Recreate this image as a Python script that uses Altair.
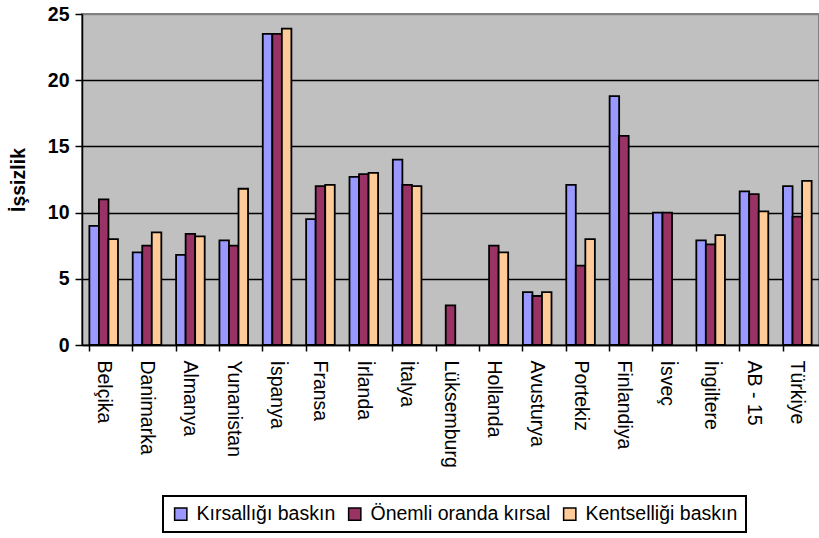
import altair as alt
import pandas as pd

# Unemployment rate (%) by country and region type
countries = ["Belçika", "Danimarka", "Almanya", "Yunanistan", "İspanya", "Fransa",
             "İrlanda", "İtalya", "Lüksemburg", "Hollanda", "Avusturya", "Portekiz",
             "Finlandiya", "İsveç", "İngiltere", "AB - 15", "Türkiye"]
series = ["Kırsallığı baskın", "Önemli oranda kırsal", "Kentselliği baskın"]
colors = ["#9999FF", "#993366", "#FFCC99"]

kirsal = [9.0, 7.0, 6.8, 7.9, 23.5, 9.5, 12.7, 14.0, None, None, 4.0, 12.1,
          18.8, 10.0, 7.9, 11.6, 12.0]
onemli = [11.0, 7.5, 8.4, 7.5, 23.5, 12.0, 12.9, 12.1, 3.0, 7.5, 3.7, 6.0,
          15.8, 10.0, 7.6, 11.4, 9.7]
kentsel = [8.0, 8.5, 8.2, 11.8, 23.9, 12.1, 13.0, 12.0, None, 7.0, 4.0, 8.0,
           None, None, 8.3, 10.1, 12.4]

rows = []
for name, vals in zip(series, [kirsal, onemli, kentsel]):
    for c, v in zip(countries, vals):
        if v is not None:
            rows.append({"ulke": c, "tur": name, "deger": v})
df = pd.DataFrame(rows)

FONT = "Liberation Sans"

chart = alt.Chart(df).mark_bar(
    stroke="black", strokeWidth=1.8
).encode(
    x=alt.X("ulke:N", sort=countries, title=None,
            scale=alt.Scale(paddingInner=0.34, paddingOuter=0.17),
            axis=alt.Axis(labelAngle=90, labelAlign="left", labelBaseline="middle",
                          labelFont=FONT, labelFontSize=19.5, labelColor="black",
                          labelPadding=9, tickSize=6, tickColor="black", tickWidth=1.5,
                          bandPosition=0, domainColor="black", domainWidth=1.5,
                          labelLimit=300)),
    xOffset=alt.XOffset("tur:N", sort=series, scale=alt.Scale(paddingInner=0, paddingOuter=0)),
    y=alt.Y("deger:Q", title="İşsizlik",
            scale=alt.Scale(domain=[0, 25], nice=False),
            axis=alt.Axis(values=[0, 5, 10, 15, 20, 25], grid=True,
                          gridColor=alt.condition("datum.value == 25", alt.value("#808080"), alt.value("black")),
                          gridWidth=1.5,
                          labelFont=FONT, labelFontSize=19.5, labelFontWeight="bold",
                          labelColor="black", labelPadding=6,
                          tickSize=7, tickColor="black", tickWidth=1.5,
                          domainColor="black", domainWidth=1.5,
                          titleFont=FONT, titleFontSize=19.5, titleFontWeight="bold",
                          titleColor="black", titlePadding=19)),
    color=alt.Color("tur:N", sort=series,
                    scale=alt.Scale(domain=series, range=colors),
                    legend=alt.Legend(title=None, orient="none", direction="horizontal",
                                      legendX=81, legendY=482,
                                      symbolType="square", symbolSize=150,
                                      symbolStrokeColor="black", symbolStrokeWidth=1.5,
                                      symbolOpacity=1,
                                      labelFont=FONT, labelFontSize=19.5, labelColor="black",
                                      labelOffset=6, labelLimit=400, columnPadding=9,
                                      padding=8, strokeColor="black", fillColor="white")),
).properties(
    width=737, height=331,
    autosize=alt.AutoSizeParams(type="none"),
    padding={"left": 82, "top": 14, "right": 0, "bottom": 193},
).configure_view(
    fill="#C0C0C0", stroke="#808080", strokeWidth=2
).configure_legend(
    strokeWidth=2
)

chart.save("out.html", embed_options={"renderer": "svg", "actions": False})
